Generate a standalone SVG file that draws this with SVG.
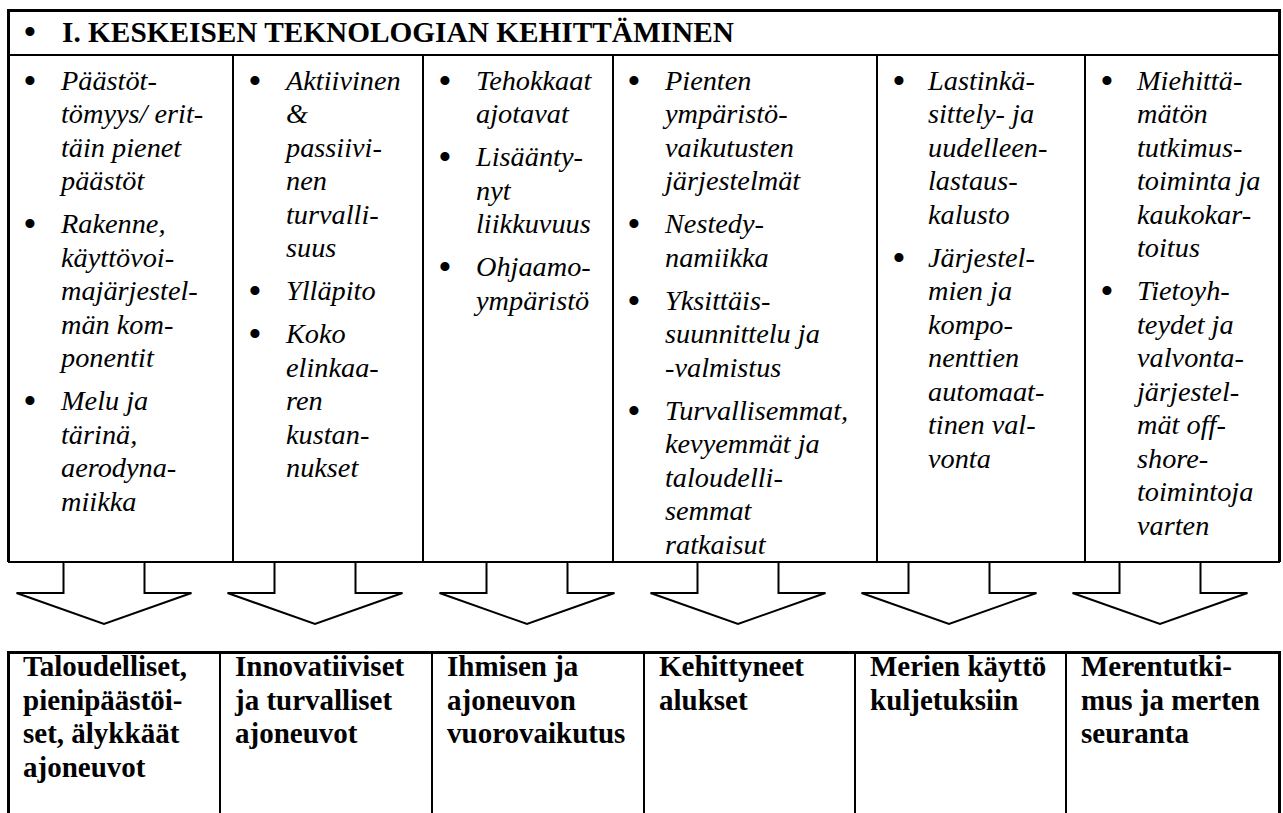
<svg xmlns="http://www.w3.org/2000/svg" width="1283" height="813" viewBox="0 0 1283 813">
<style>
text{font-family:'Liberation Serif','DejaVu Serif',serif}
.it{font-style:italic;font-size:28.3px;fill:#000}
.bd{font-weight:bold;font-size:29px;fill:#000}
.hd{font-weight:bold;font-size:29.3px;fill:#000}
.bu{font-size:38px;fill:#000;text-anchor:middle}
.ln{stroke:#000;stroke-width:2;fill:none}
.tk{stroke:#000;stroke-width:3;fill:none}
.ar{stroke:#000;stroke-width:2;fill:#fff;stroke-linejoin:miter}
</style>
<rect width="1283" height="813" fill="#fff"/>
<g id="table-frame">
<line class="tk" x1="7" y1="10.5" x2="1281" y2="10.5"/>
<line class="tk" x1="8.5" y1="9" x2="8.5" y2="562"/>
<line class="tk" x1="1279.5" y1="9" x2="1279.5" y2="562"/>
<line class="ln" x1="8" y1="55" x2="1280" y2="55"/>
<line class="ln" x1="8" y1="562" x2="1280" y2="562"/>
<line class="ln" x1="233" y1="55" x2="233" y2="562"/>
<line class="ln" x1="423" y1="55" x2="423" y2="562"/>
<line class="ln" x1="613" y1="55" x2="613" y2="562"/>
<line class="ln" x1="877" y1="55" x2="877" y2="562"/>
<line class="ln" x1="1085" y1="55" x2="1085" y2="562"/>
</g>
<g id="header">
<text class="bu" x="30" y="45">•</text>
<text class="hd" x="62" y="42">I. KESKEISEN TEKNOLOGIAN KEHITTÄMINEN</text>
</g>
<g id="col1">
<text class="bu" x="30" y="93.5">•</text>
<text class="it" x="61" y="89.5">Päästöt-</text>
<text class="it" x="61" y="123">tömyys/ erit-</text>
<text class="it" x="61" y="156.5">täin pienet</text>
<text class="it" x="61" y="190">päästöt</text>
<text class="bu" x="30" y="237">•</text>
<text class="it" x="61" y="233">Rakenne,</text>
<text class="it" x="61" y="266.5">käyttövoi-</text>
<text class="it" x="61" y="300">majärjestel-</text>
<text class="it" x="61" y="333.5">män kom-</text>
<text class="it" x="61" y="367">ponentit</text>
<text class="bu" x="30" y="414">•</text>
<text class="it" x="61" y="410">Melu ja</text>
<text class="it" x="61" y="443.5">tärinä,</text>
<text class="it" x="61" y="477">aerodyna-</text>
<text class="it" x="61" y="510.5">miikka</text>
</g>
<g id="col2">
<text class="bu" x="255" y="93.5">•</text>
<text class="it" x="286" y="89.5">Aktiivinen</text>
<text class="it" x="286" y="123">&amp;</text>
<text class="it" x="286" y="156.5">passiivi-</text>
<text class="it" x="286" y="190">nen</text>
<text class="it" x="286" y="223.5">turvalli-</text>
<text class="it" x="286" y="257">suus</text>
<text class="bu" x="255" y="304">•</text>
<text class="it" x="286" y="300">Ylläpito</text>
<text class="bu" x="255" y="347">•</text>
<text class="it" x="286" y="343">Koko</text>
<text class="it" x="286" y="376.5">elinkaa-</text>
<text class="it" x="286" y="410">ren</text>
<text class="it" x="286" y="443.5">kustan-</text>
<text class="it" x="286" y="477">nukset</text>
</g>
<g id="col3">
<text class="bu" x="445" y="93.5">•</text>
<text class="it" x="476" y="89.5">Tehokkaat</text>
<text class="it" x="476" y="123">ajotavat</text>
<text class="bu" x="445" y="170">•</text>
<text class="it" x="476" y="166">Lisäänty-</text>
<text class="it" x="476" y="199.5">nyt</text>
<text class="it" x="476" y="233">liikkuvuus</text>
<text class="bu" x="445" y="280">•</text>
<text class="it" x="476" y="276">Ohjaamo-</text>
<text class="it" x="476" y="309.5">ympäristö</text>
</g>
<g id="col4">
<text class="bu" x="634" y="93.5">•</text>
<text class="it" x="665" y="89.5">Pienten</text>
<text class="it" x="665" y="123">ympäristö-</text>
<text class="it" x="665" y="156.5">vaikutusten</text>
<text class="it" x="665" y="190">järjestelmät</text>
<text class="bu" x="634" y="237">•</text>
<text class="it" x="665" y="233">Nestedy-</text>
<text class="it" x="665" y="266.5">namiikka</text>
<text class="bu" x="634" y="313.5">•</text>
<text class="it" x="665" y="309.5">Yksittäis-</text>
<text class="it" x="665" y="343">suunnittelu ja</text>
<text class="it" x="665" y="376.5">-valmistus</text>
<text class="bu" x="634" y="423.5">•</text>
<text class="it" x="665" y="419.5">Turvallisemmat,</text>
<text class="it" x="665" y="453">kevyemmät ja</text>
<text class="it" x="665" y="486.5">taloudelli-</text>
<text class="it" x="665" y="520">semmat</text>
<text class="it" x="665" y="553.5">ratkaisut</text>
</g>
<g id="col5">
<text class="bu" x="899" y="93.5">•</text>
<text class="it" x="928" y="89.5">Lastinkä-</text>
<text class="it" x="928" y="123">sittely- ja</text>
<text class="it" x="928" y="156.5">uudelleen-</text>
<text class="it" x="928" y="190">lastaus-</text>
<text class="it" x="928" y="223.5">kalusto</text>
<text class="bu" x="899" y="270.5">•</text>
<text class="it" x="928" y="266.5">Järjestel-</text>
<text class="it" x="928" y="300">mien ja</text>
<text class="it" x="928" y="333.5">kompo-</text>
<text class="it" x="928" y="367">nenttien</text>
<text class="it" x="928" y="400.5">automaat-</text>
<text class="it" x="928" y="434">tinen val-</text>
<text class="it" x="928" y="467.5">vonta</text>
</g>
<g id="col6">
<text class="bu" x="1107" y="93.5">•</text>
<text class="it" x="1137" y="89.5">Miehittä-</text>
<text class="it" x="1137" y="123">mätön</text>
<text class="it" x="1137" y="156.5">tutkimus-</text>
<text class="it" x="1137" y="190">toiminta ja</text>
<text class="it" x="1137" y="223.5">kaukokar-</text>
<text class="it" x="1137" y="257">toitus</text>
<text class="bu" x="1107" y="304">•</text>
<text class="it" x="1137" y="300">Tietoyh-</text>
<text class="it" x="1137" y="333.5">teydet ja</text>
<text class="it" x="1137" y="367">valvonta-</text>
<text class="it" x="1137" y="400.5">järjestel-</text>
<text class="it" x="1137" y="434">mät off-</text>
<text class="it" x="1137" y="467.5">shore-</text>
<text class="it" x="1137" y="501">toimintoja</text>
<text class="it" x="1137" y="534.5">varten</text>
</g>
<g id="connectors">
<polygon class="ar" points="63.5,562 144.5,562 144.5,593 191.5,593 104,624 16.5,593 63.5,593"/>
<polygon class="ar" points="274.5,562 355.5,562 355.5,593 402.5,593 315,624 227.5,593 274.5,593"/>
<polygon class="ar" points="486.5,562 567.5,562 567.5,593 614.5,593 527,624 439.5,593 486.5,593"/>
<polygon class="ar" points="697.5,562 778.5,562 778.5,593 825.5,593 738,624 650.5,593 697.5,593"/>
<polygon class="ar" points="908.5,562 989.5,562 989.5,593 1036.5,593 949,624 861.5,593 908.5,593"/>
<polygon class="ar" points="1119.5,562 1200.5,562 1200.5,593 1247.5,593 1160,624 1072.5,593 1119.5,593"/>
</g>
<g id="bottom-frame">
<line class="tk" x1="7" y1="652.5" x2="1281" y2="652.5"/>
<line class="tk" x1="8.5" y1="651" x2="8.5" y2="813"/>
<line class="ln" x1="220" y1="652" x2="220" y2="813"/>
<line class="ln" x1="432" y1="652" x2="432" y2="813"/>
<line class="ln" x1="644" y1="652" x2="644" y2="813"/>
<line class="ln" x1="855" y1="652" x2="855" y2="813"/>
<line class="ln" x1="1066" y1="652" x2="1066" y2="813"/>
<line class="tk" x1="1279.5" y1="651" x2="1279.5" y2="813"/>
</g>
<g id="box1">
<text class="bd" x="23" y="676">Taloudelliset,</text>
<text class="bd" x="23" y="709.5">pienipäästöi-</text>
<text class="bd" x="23" y="743">set, älykkäät</text>
<text class="bd" x="23" y="776.5">ajoneuvot</text>
</g>
<g id="box2">
<text class="bd" x="235" y="676">Innovatiiviset</text>
<text class="bd" x="235" y="709.5">ja turvalliset</text>
<text class="bd" x="235" y="743">ajoneuvot</text>
</g>
<g id="box3">
<text class="bd" x="447" y="676">Ihmisen ja</text>
<text class="bd" x="447" y="709.5">ajoneuvon</text>
<text class="bd" x="447" y="743">vuorovaikutus</text>
</g>
<g id="box4">
<text class="bd" x="659" y="676">Kehittyneet</text>
<text class="bd" x="659" y="709.5">alukset</text>
</g>
<g id="box5">
<text class="bd" x="870" y="676">Merien käyttö</text>
<text class="bd" x="870" y="709.5">kuljetuksiin</text>
</g>
<g id="box6">
<text class="bd" x="1081" y="676">Merentutki-</text>
<text class="bd" x="1081" y="709.5">mus ja merten</text>
<text class="bd" x="1081" y="743">seuranta</text>
</g>
</svg>
